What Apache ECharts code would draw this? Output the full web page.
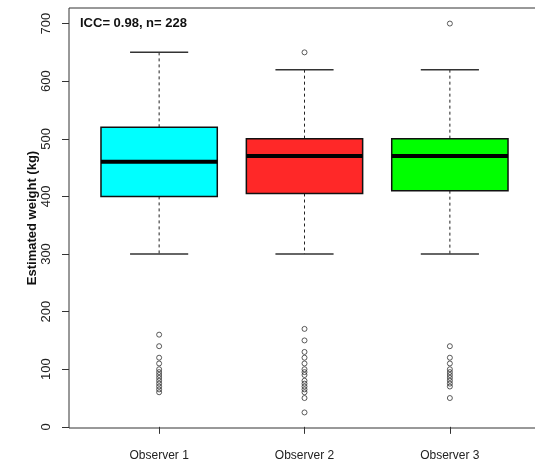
<!DOCTYPE html>
<html>
<head>
<meta charset="utf-8">
<script src="https://cdn.jsdelivr.net/npm/echarts@6/dist/echarts.min.js"></script>
<style>
html,body{margin:0;padding:0;background:#fff;overflow:hidden;}
#chart{width:535px;height:464px;}
</style>
</head>
<body>
<div id="chart"></div>
<script>
const categories = ['Observer 1', 'Observer 2', 'Observer 3'];
const whiskerLow = [300, 300, 300];
const q1 = [400, 405, 410];
const median = [460, 470, 470];
const q3 = [520, 500, 500];
const whiskerHigh = [650, 620, 620];
const outliers1 = [160, 140, 120, 110, 100, 95, 90, 85, 80, 75, 70, 65, 60];
const outliers2 = [650, 170, 150, 130, 120, 110, 100, 95, 90, 80, 75, 70, 65, 60, 50, 25];
const outliers3 = [700, 140, 120, 110, 100, 95, 90, 85, 80, 75, 70, 50];
const yTicks = [0, 100, 200, 300, 400, 500, 600, 700];
const annotation = 'ICC= 0.98, n= 228';

const boxColors = ['#00FFFF', '#FF2828', '#00FF00'];
const FONT = 'Liberation Sans, Arial, sans-serif';

const boxData = categories.map((c, i) => [i + 1, whiskerLow[i], q1[i], median[i], q3[i], whiskerHigh[i]]);
const outlierData = [];
[outliers1, outliers2, outliers3].forEach((arr, i) => arr.forEach(v => outlierData.push([i + 1, v])));

function renderBox(params, api) {
  const x = api.value(0);
  const lo = api.coord([x, api.value(1)]);
  const b1 = api.coord([x, api.value(2)]);
  const md = api.coord([x, api.value(3)]);
  const b3 = api.coord([x, api.value(4)]);
  const hi = api.coord([x, api.value(5)]);
  const w = api.size([0.8, 0])[0];
  const cx = lo[0];
  const dash = { stroke: '#222', lineWidth: 1, lineDash: [3, 3] };
  const cap = { stroke: '#333', lineWidth: 1.5 };
  return {
    type: 'group',
    children: [
      { type: 'line', shape: { x1: cx, y1: hi[1], x2: cx, y2: b3[1] }, style: dash },
      { type: 'line', shape: { x1: cx, y1: b1[1], x2: cx, y2: lo[1] }, style: dash },
      { type: 'line', shape: { x1: cx - w / 4, y1: hi[1], x2: cx + w / 4, y2: hi[1] }, style: cap },
      { type: 'line', shape: { x1: cx - w / 4, y1: lo[1], x2: cx + w / 4, y2: lo[1] }, style: cap },
      { type: 'rect', shape: { x: cx - w / 2, y: b3[1], width: w, height: b1[1] - b3[1] },
        style: { fill: boxColors[params.dataIndex], stroke: '#111', lineWidth: 1.5 } },
      { type: 'line', shape: { x1: cx - w / 2, y1: md[1], x2: cx + w / 2, y2: md[1] },
        style: { stroke: '#000', lineWidth: 4 } }
    ]
  };
}

const chart = echarts.init(document.getElementById('chart'), null, { renderer: 'canvas' });
chart.setOption({
  animation: false,
  backgroundColor: '#fff',
  grid: { left: 69, width: 471, top: 8, bottom: 36, show: true, borderColor: '#333', borderWidth: 1,
    backgroundColor: 'transparent', outerBoundsMode: 'none', containLabel: false },
  xAxis: {
    type: 'value', min: 0.38, max: 3.62,
    axisLine: { show: false },
    splitLine: { show: false },
    axisTick: { show: true, length: 7, customValues: [1, 2, 3], lineStyle: { color: '#333' } },
    axisLabel: { customValues: [1, 2, 3], formatter: v => categories[Math.round(v) - 1], margin: 22,
      color: '#222', fontSize: 12, fontFamily: FONT }
  },
  yAxis: {
    type: 'value', min: -2, max: 727,
    name: 'Estimated weight (kg)', nameLocation: 'middle', nameGap: 30, nameMoveOverlap: false,
    nameTextStyle: { fontWeight: 'bold', fontSize: 13, color: '#111', fontFamily: FONT },
    axisLine: { show: false },
    splitLine: { show: false },
    axisTick: { show: true, length: 7, customValues: yTicks, lineStyle: { color: '#333' } },
    axisLabel: { customValues: yTicks, rotate: 90, margin: 16, color: '#222', fontSize: 13, fontFamily: FONT }
  },
  graphic: [
    { type: 'text', left: 80, top: 17, style: { text: annotation, font: 'bold 13px ' + FONT, fill: '#111' } }
  ],
  series: [
    { type: 'custom', renderItem: renderBox, data: boxData, encode: { x: 0, y: [1, 2, 3, 4, 5] }, z: 2 },
    { type: 'scatter', data: outlierData, symbol: 'circle', symbolSize: 5,
      itemStyle: { color: 'rgba(0,0,0,0)', borderColor: '#333', borderWidth: 1 }, z: 3 }
  ]
});
</script>
</body>
</html>
